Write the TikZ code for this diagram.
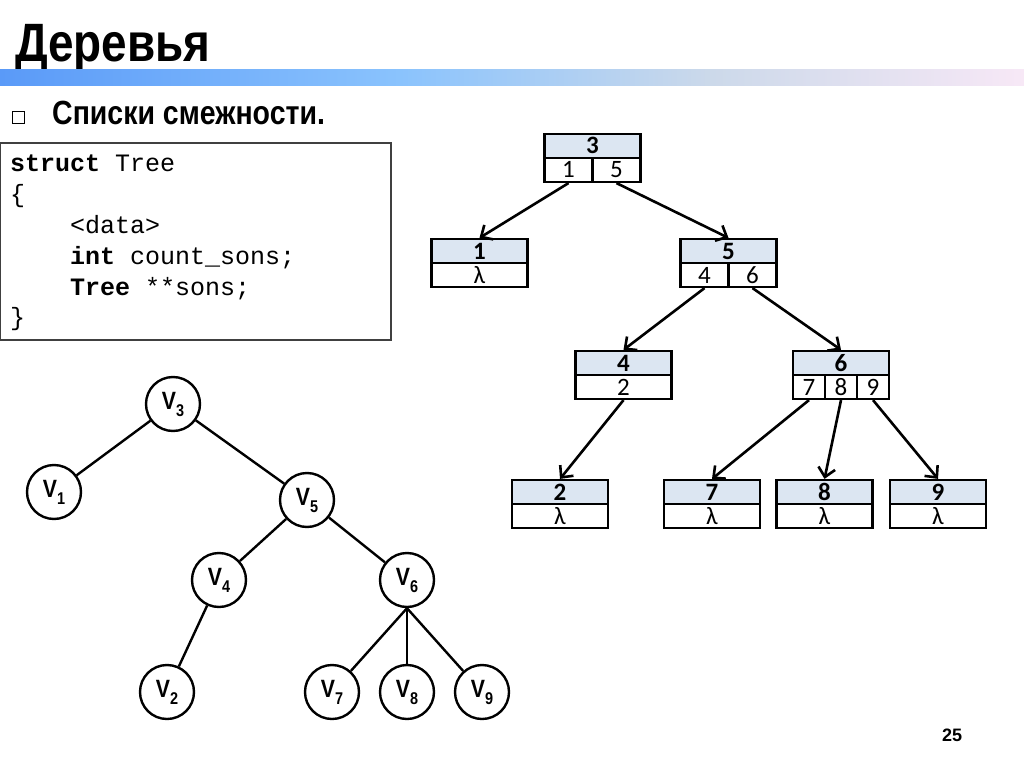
\documentclass[tikz,border=0pt]{standalone}
\usepackage{fontspec}
\setmainfont{Liberation Sans}
\setmonofont{Liberation Mono}
\newfontfamily\narrowfont[FakeStretch=0.85]{Liberation Sans}
\newfontfamily\calfont{Carlito}
\usetikzlibrary{arrows.meta,positioning}
\definecolor{hdrblue}{HTML}{DCE6F2}
\definecolor{barA}{HTML}{5A9AF8}
\definecolor{barB}{HTML}{8AC3FD}
\definecolor{barC}{HTML}{CCD9EA}
\definecolor{barD}{HTML}{F7E8F6}
\newcommand{\vname}[1]{V\raisebox{-7pt}{\fontsize{17}{17}\selectfont #1}}

\begin{document}
\begin{tikzpicture}[x=1pt, y=-1pt,
  hdr/.style={draw=black, line width=2.2pt, fill=hdrblue, minimum width=96pt, minimum height=24pt,
              inner sep=0pt, text height=16.5pt, text depth=0.5pt,
              font=\calfont\bfseries\fontsize{25}{25}\selectfont},
  cell/.style={draw=black, line width=2.2pt, fill=white, minimum height=24pt,
               inner sep=0pt, text height=16.5pt, text depth=0.5pt,
               font=\calfont\fontsize{25}{25}\selectfont},
  arr/.style={draw=black, line width=2.6pt, -{Straight Barb[length=9pt,width=17pt]}},
  tv/.style={circle, draw=black, line width=2.4pt, minimum size=54pt, inner sep=0pt,
             font=\narrowfont\bfseries\fontsize{25}{25}\selectfont},
  edge/.style={draw=black, line width=2.4pt}
]
\useasboundingbox (0,0) rectangle (1024,767);
\fill[white] (0,0) rectangle (1024,767);

\node[anchor=base west, inner sep=0pt] (title) at (15,62) {\narrowfont\bfseries\fontsize{54}{54}\selectfont Деревья};
\shade[left color=barA, right color=barB] (0,70) rectangle (400,86);
\shade[left color=barB, right color=barD, middle color=barC] (400,70) rectangle (1024,86);

\node[draw=black, line width=0.8pt, minimum size=12pt, inner sep=0pt] (bullet) at (18,117.5) {};
\node[anchor=base west, inner sep=0pt] (sub) at (52,125) {\narrowfont\bfseries\fontsize{33.5}{33.5}\selectfont Списки смежности.};

\draw[black!75, line width=1.5pt] (0,143) rectangle (391,340);
\node[anchor=north west, inner xsep=0pt, inner ysep=0pt, align=left,
      font=\ttfamily\fontsize{25}{30.8}\selectfont] (code) at (10,155)
  {\textbf{struct} Tree\\
   \{\\
   \hspace*{60pt}<data>\\
   \hspace*{60pt}\textbf{int} count\_sons;\\
   \hspace*{60pt}\textbf{Tree} **sons;\\
   \}};

\node[hdr] (h3) at (592.5,146) {3};
\node[cell, minimum width=48pt] (c31) at (568.5,170) {1};
\node[cell, minimum width=48pt] (c35) at (616.5,170) {5};
\node[hdr] (h1) at (479.5,251) {1};
\node[cell, minimum width=96pt] (c1) at (479.5,275) {λ};
\node[hdr] (h5) at (728.5,251) {5};
\node[cell, minimum width=48pt] (c54) at (704.5,275) {4};
\node[cell, minimum width=48pt] (c56) at (752.5,275) {6};
\node[hdr] (h4) at (623.5,363) {4};
\node[cell, minimum width=96pt] (c42) at (623.5,387) {2};
\node[hdr] (h6) at (841,363) {6};
\node[cell, minimum width=32pt] (c67) at (809,387) {7};
\node[cell, minimum width=32pt] (c68) at (841,387) {8};
\node[cell, minimum width=32pt] (c69) at (873,387) {9};
\node[hdr] (h2) at (560,492) {2};
\node[cell, minimum width=96pt] (c2) at (560,516) {λ};
\node[hdr] (h7) at (712,492) {7};
\node[cell, minimum width=96pt] (c7) at (712,516) {λ};
\node[hdr] (h8) at (824.5,492) {8};
\node[cell, minimum width=96pt] (c8) at (824.5,516) {λ};
\node[hdr] (h9) at (938,492) {9};
\node[cell, minimum width=96pt] (c9) at (938,516) {λ};

\draw[arr] (c31.south) -- (h1.north);
\draw[arr] (c35.south) -- (h5.north);
\draw[arr] (c54.south) -- (h4.north);
\draw[arr] (c56.south) -- (h6.north);
\draw[arr] (c42.south) -- (h2.north);
\draw[arr] (c67.south) -- (h7.north);
\draw[arr] (c68.south) -- (h8.north);
\draw[arr] (c69.south) -- (h9.north);

\node[tv] (v3) at (173,404) {\vname{3}};
\node[tv] (v1) at (54,492) {\vname{1}};
\node[tv] (v5) at (307,500) {\vname{5}};
\node[tv] (v4) at (219,580) {\vname{4}};
\node[tv] (v6) at (407,580) {\vname{6}};
\node[tv] (v2) at (167,692) {\vname{2}};
\node[tv] (v7) at (332,692) {\vname{7}};
\node[tv] (v8) at (407,692) {\vname{8}};
\node[tv] (v9) at (482,692) {\vname{9}};

\draw[edge] (v3) -- (v1);
\draw[edge] (v3) -- (v5);
\draw[edge] (v5) -- (v4);
\draw[edge] (v5) -- (v6);
\draw[edge] (v4) -- (v2);
\draw[edge] (v6.south) -- (v7);
\draw[edge] (v6.south) -- (v8);
\draw[edge] (v6.south) -- (v9);

\node[inner sep=0pt] (page) at (952,735) {\bfseries\fontsize{18}{18}\selectfont 25};
\end{tikzpicture}
\end{document}
